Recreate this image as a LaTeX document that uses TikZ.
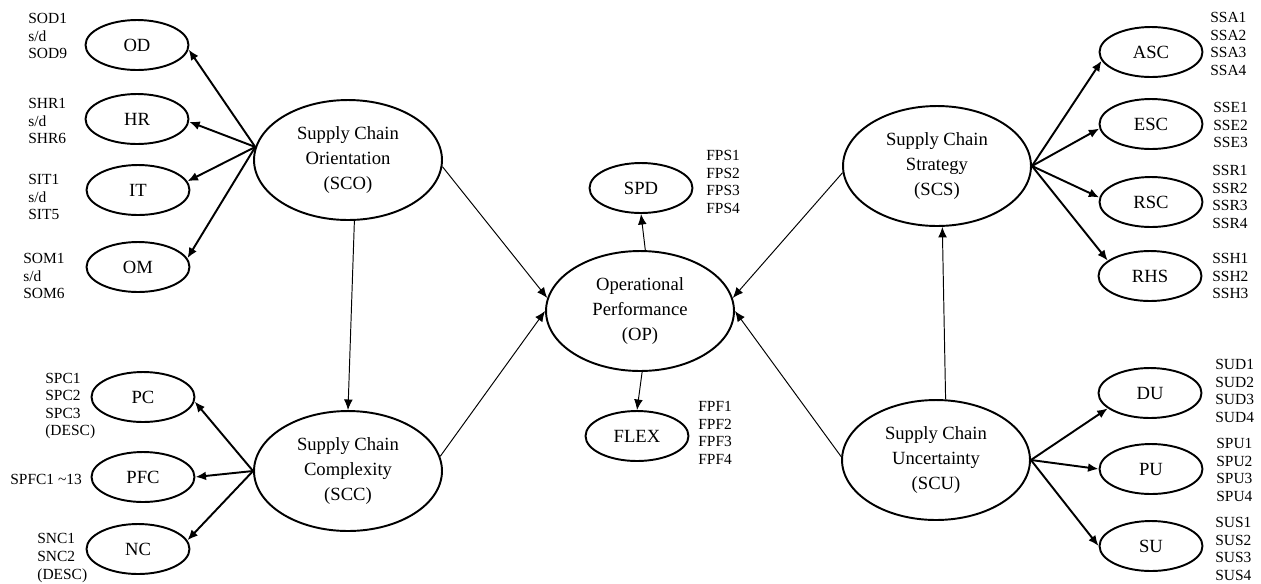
\documentclass[tikz,border=0pt]{standalone}
\usepackage{fontspec}
\setmainfont{Liberation Serif}
\usetikzlibrary{shapes.geometric,arrows.meta}
\begin{document}
\begin{tikzpicture}[x=0.02cm,y=-0.02cm,>={Latex[length=6pt,width=5pt]},
	latent/.style={ellipse,draw,line width=1.1pt,inner sep=0pt,minimum width=3.76cm,minimum height=2.4cm,align=center,font=\fontsize{10.6}{14.5}\selectfont},
	dim/.style={ellipse,draw,line width=1.1pt,inner sep=0pt,minimum width=2.06cm,minimum height=1cm,font=\fontsize{10.6}{13}\selectfont},
	items/.style={anchor=west,inner sep=0pt,align=left,font=\fontsize{8.8}{10}\selectfont},
	load/.style={->,line width=1.1pt},
	effect/.style={->,line width=0.55pt}]
	\useasboundingbox (0,0) rectangle (1261,583);
	% latent constructs
	\node[latent] (SCO) at (348,160) {Supply Chain\\Orientation\\(SCO)};
	\node[latent] (SCC) at (348,471) {Supply Chain\\Complexity\\(SCC)};
	\node[latent] (OP) at (640,311) {Operational\\Performance\\(OP)};
	\node[latent] (SCS) at (937,166) {Supply Chain\\Strategy\\(SCS)};
	\node[latent] (SCU) at (936,460) {Supply Chain\\Uncertainty\\(SCU)};
	% dimensions
	\node[dim] (OD) at (137,45) {OD};
	\node[dim] (HR) at (137,119) {HR};
	\node[dim] (IT) at (138,190) {IT};
	\node[dim] (OM) at (138,267) {OM};
	\node[dim] (PC) at (143,397) {PC};
	\node[dim] (PFC) at (143,477) {PFC};
	\node[dim] (NC) at (138,549) {NC};
	\node[dim] (SPD) at (641,188) {SPD};
	\node[dim] (FLEX) at (637,436) {FLEX};
	\node[dim] (ASC) at (1151,52) {ASC};
	\node[dim] (ESC) at (1151,124) {ESC};
	\node[dim] (RSC) at (1151,202) {RSC};
	\node[dim] (RHS) at (1150,276) {RHS};
	\node[dim] (DU) at (1150,393) {DU};
	\node[dim] (PU) at (1151,469) {PU};
	\node[dim] (SU) at (1151,546) {SU};
	% indicators
	\node[items] (OD-i) at (28,36) {SOD1\\s/d\\SOD9};
	\node[items] (HR-i) at (28,121) {SHR1\\s/d\\SHR6};
	\node[items] (IT-i) at (28,197) {SIT1\\s/d\\SIT5};
	\node[items] (OM-i) at (23,276) {SOM1\\s/d\\SOM6};
	\node[items] (PC-i) at (45,406) {SPC1\\SPC2\\SPC3\\(DESC)};
	\node[items] (PFC-i) at (10,479) {SPFC1 \textasciitilde13};
	\node[items] (NC-i) at (37,558) {SNC1\\SNC2\\(DESC)};
	\node[items] (SPD-i) at (706,182) {FPS1\\FPS2\\FPS3\\FPS4};
	\node[items] (FLEX-i) at (698,433) {FPF1\\FPF2\\FPF3\\FPF4};
	\node[items] (ASC-i) at (1210,44) {SSA1\\SSA2\\SSA3\\SSA4};
	\node[items] (ESC-i) at (1213,125) {SSE1\\SSE2\\SSE3};
	\node[items] (RSC-i) at (1212,197) {SSR1\\SSR2\\SSR3\\SSR4};
	\node[items] (RHS-i) at (1212,276) {SSH1\\SSH2\\SSH3};
	\node[items] (DU-i) at (1215,391) {SUD1\\SUD2\\SUD3\\SUD4};
	\node[items] (PU-i) at (1216,470) {SPU1\\SPU2\\SPU3\\SPU4};
	\node[items] (SU-i) at (1215,549) {SUS1\\SUS2\\SUS3\\SUS4};
	% loadings
	\coordinate (sco-o) at (SCO.172);
	\coordinate (scc-o) at (SCC.west);
	\coordinate (scs-o) at (SCS.east);
	\coordinate (scu-o) at (SCU.east);
	\draw[load] (sco-o)--(OD.-5);
	\draw[load] (sco-o)--(HR.-3);
	\draw[load] (sco-o)--(IT.10);
	\draw[load] (sco-o)--(OM.10);
	\draw[load] (scc-o)--(PC.-5);
	\draw[load] (scc-o)--(PFC.east);
	\draw[load] (scc-o)--(NC.10);
	\draw[load] (scs-o)--(ASC.190);
	\draw[load] (scs-o)--(ESC.185);
	\draw[load] (scs-o)--(RSC.175);
	\draw[load] (scs-o)--(RHS.160);
	\draw[load] (scu-o)--(DU.200);
	\draw[load] (scu-o)--(PU.west);
	\draw[load] (scu-o)--(SU.west);
	% structural paths
	\draw[effect] (SCO.-4)--(OP.172);
	\draw[effect] (SCC.9)--(OP.180);
	\draw[effect] (SCS.184)--(OP.8);
	\draw[effect] (SCU.178)--(OP.0);
	\draw[effect] (SCO.276)--(SCC.north);
	\draw[effect] (SCU.81)--(SCS.275);
	\draw[effect] (OP.85)--(SPD.south);
	\draw[effect] (OP.272)--(FLEX.north);
\end{tikzpicture}
\end{document}
